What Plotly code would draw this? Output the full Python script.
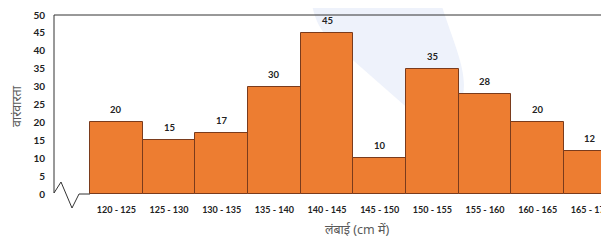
import plotly.graph_objects as go

categories = ["120 - 125", "125 - 130", "130 - 135", "135 - 140", "140 - 145",
              "145 - 150", "150 - 155", "155 - 160", "160 - 165", "165 - 170"]
frequencies = [20, 15, 17, 30, 45, 10, 35, 28, 20, 12]
y_ticks = [0, 5, 10, 15, 20, 25, 30, 35, 40, 45, 50]
x_title = "लंबाई (cm में)"
y_title = "वारंवारता"

# the page body has an 8px margin, so the figure is placed at (8, 8)
OFF = 8
W, H = 609 - OFF, 240 - OFF
L, R, T, B = 54 - OFF, 0, 15 - OFF, 46
pw, ph = W - L - R, H - T - B

def px(x):  # window pixel -> paper x
    return (x - OFF - L) / pw

def py(y):  # window pixel -> paper y
    return (H - B - (y - OFF)) / ph

xs = list(range(len(categories)))

fig = go.Figure()
fig.add_trace(go.Bar(
    x=xs, y=frequencies, width=1.0,
    marker=dict(color="#ED7D31", line=dict(color="#7a3b1c", width=1)),
    hoverinfo="skip",
))

for x, v in zip(xs, frequencies):
    fig.add_annotation(x=x, y=v, text=str(v), showarrow=False, yanchor="bottom",
                       yshift=5, font=dict(size=9.5, color="#222", family="Lato", weight="bold"))

# faint watermark blob (behind bars)
wm = (f"M {px(312)},{py(0)} L {px(440)},{py(0)} "
      f"C {px(452)},{py(40)} {px(468)},{py(70)} {px(463)},{py(95)} "
      f"C {px(458)},{py(120)} {px(432)},{py(128)} {px(412)},{py(112)} "
      f"L {px(330)},{py(40)} C {px(318)},{py(28)} {px(312)},{py(12)} {px(312)},{py(0)} Z")
fig.add_shape(type="path", path=wm, xref="paper", yref="paper", layer="below",
              fillcolor="#eef2fb", line=dict(width=0))

# frame: top line and left axis with zigzag break
fig.add_shape(type="line", xref="paper", yref="paper", x0=0, x1=1, y0=1, y1=1,
              line=dict(color="#333", width=1))
zz = (f"M {px(54)},{py(15)} L {px(54)},{py(193)} L {px(61)},{py(182)} "
      f"L {px(72)},{py(208)} L {px(79)},{py(194)} L {px(90)},{py(194)}")
fig.add_shape(type="path", path=zz, xref="paper", yref="paper",
              line=dict(color="#333", width=1))

title_font = dict(size=12.5, color="#595959",
                  family="Noto Sans, Noto Sans Devanagari, sans-serif")
fig.add_annotation(x=px(357), y=py(229), xref="paper", yref="paper", text=x_title,
                   xanchor="center", yanchor="middle", showarrow=False, font=title_font)
fig.add_annotation(x=px(16), y=py(106), xref="paper", yref="paper", text=y_title,
                   xanchor="center", yanchor="middle", showarrow=False, textangle=-90,
                   font=title_font)

fig.update_layout(
    width=W, height=H,
    margin=dict(l=L, r=R, t=T, b=B),
    plot_bgcolor="white", paper_bgcolor="white",
    showlegend=False, bargap=0,
    xaxis=dict(range=[-1.1835, 9.354], tickvals=xs, ticktext=categories,
               showgrid=False, zeroline=False, showline=False, ticks="",
               ticklabelstandoff=9, automargin=False, ticklabeloverflow="allow",
               tickfont=dict(size=9, color="#222", family="Lato", weight="bold")),
    yaxis=dict(range=[0, 50], tickvals=y_ticks, showgrid=False, zeroline=False,
               showline=False, ticks="", ticklabelstandoff=8, automargin=False,
               tickfont=dict(size=10, color="#222", family="Lato", weight="bold")),
)

fig.write_html("out.html")
